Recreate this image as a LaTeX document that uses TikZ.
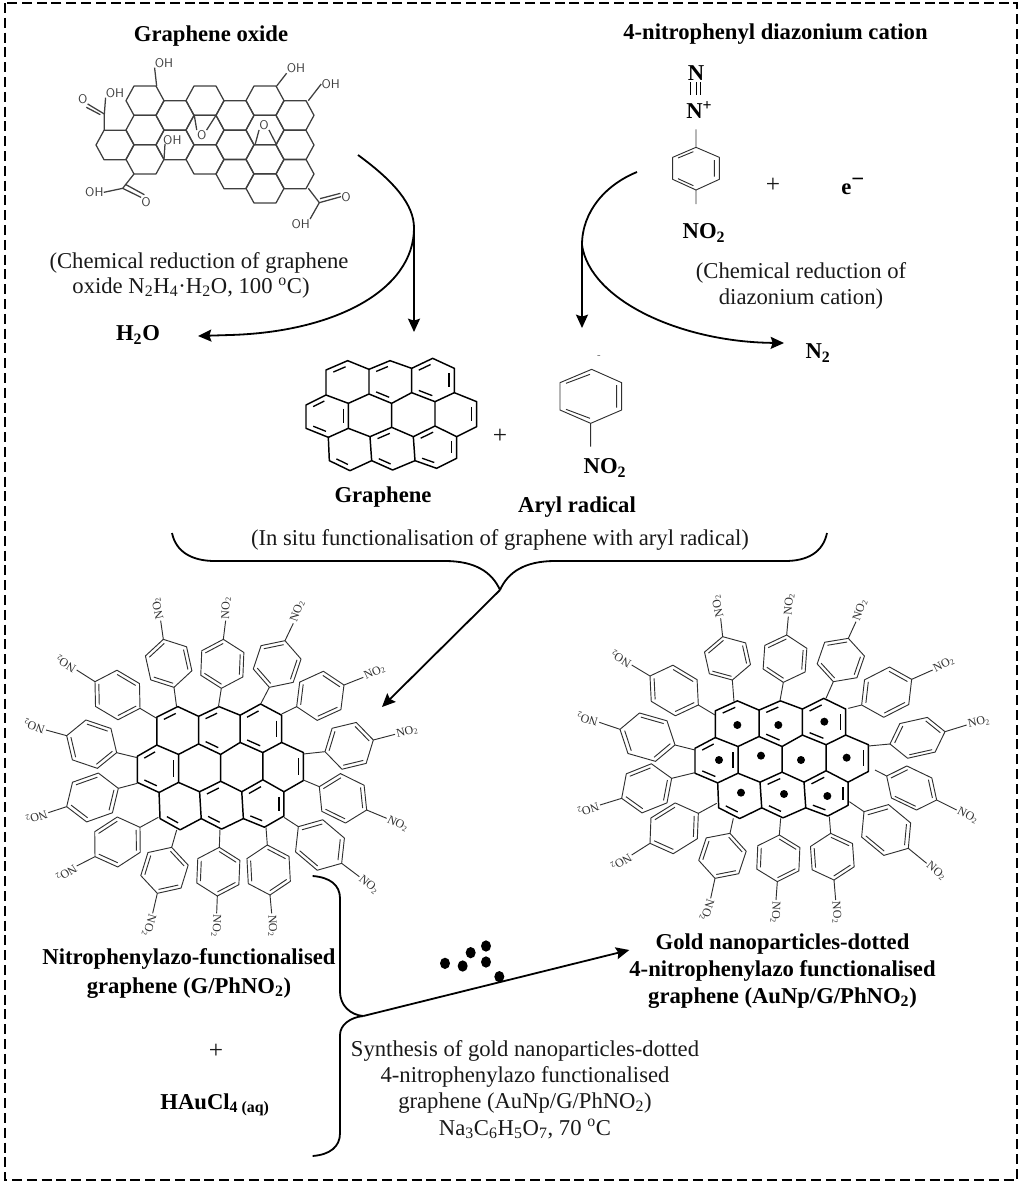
\documentclass[tikz,border=0pt]{standalone}
\usepackage{fontspec}
\setmainfont{Liberation Serif}
\usetikzlibrary{calc,arrows.meta}
\definecolor{goink}{HTML}{3F3F3F}
\definecolor{arink}{HTML}{303030}
\tikzset{
  txt/.style={font=\fontsize{17}{20}\selectfont,inner sep=0pt,text=black!90},
  btxt/.style={font=\fontsize{17}{20}\selectfont\bfseries,inner sep=0pt,text=black},
  plus/.style={font=\fontsize{19}{20}\selectfont,inner sep=0pt,text=black!90},
  arlab/.style={font=\fontsize{9}{10}\selectfont,inner sep=1pt,text=arink},
  golab/.style={font=\sffamily\fontsize{9.5}{10}\selectfont,inner sep=0pt,text=goink},
  aryl/.style={draw=arink,line width=.7pt,line join=round},
  gbond/.style={draw=black,line width=1.1pt,line join=round},
  gdbl/.style={draw=black,line width=1pt,shorten <=1.7pt,shorten >=1.7pt},
  gobond/.style={draw=goink,line width=.95pt,line join=round},
  flow/.style={draw=black,line width=1.35pt},
  flowtip/.style={flow,-{Stealth[length=10pt,width=9pt,inset=1.5pt]}},
  frame/.style={draw=black,line width=1.2pt,dash pattern=on 7.5pt off 3.6pt},
  gold/.style={fill=black,draw=none},
}
% --- graphene core, in the coordinates of a 3x enlargement
\newcommand\dblin[3]{\draw[gdbl] ($(#1)!.24!(#3)$) -- ($(#2)!.24!(#3)$);}
\newcommand\graphenecore{%
  \foreach \n/\p in {a1/{203,62},a2/{330,62},a3/{458,55},b1/{138,90},b2/{267,88},b3/{395,85},b4/{523,85},
    c1/{138,165},c2/{267,162},c3/{395,158},c4/{523,158},d0/{78,195},d1/{205,190},d2/{335,190},d3/{465,185},d4/{590,185},
    e0/{78,265},e1/{205,265},e2/{335,262},e3/{465,258},e4/{590,260},f1/{145,292},f2/{270,290},f3/{400,290},f4/{530,290},
    g1/{148,362},g2/{275,362},g3/{405,362},g4/{530,355},h1/{210,392},h2/{338,390},h3/{470,385},
    r1/{203,127},r2/{330,125},r3/{458,120},r4/{142,228},r7/{528,222},r8/{210,327},r9/{338,326},r10/{467,322}}
    {\coordinate (\n) at (\p);}
  \draw[gbond] (a1)--(b2)--(a2)--(b3)--(a3)--(b4)--(c4)--(d4)--(e4)--(f4)--(g4)--(h3)--(g3)--(h2)--(g2)--(h1)--(g1)--(f1)--(e0)--(d0)--(c1)--(b1)--cycle;
  \draw[gbond] (b2)--(c2) (b3)--(c3) (c1)--(d1)--(c2)--(d2)--(c3)--(d3)--(c4)
    (d1)--(e1) (d2)--(e2) (d3)--(e3) (f1)--(e1)--(f2)--(e2)--(f3)--(e3)--(f4) (f2)--(g2) (f3)--(g3);
  \dblin{b1}{a1}{r1}
  \dblin{b2}{a2}{r2}\dblin{c2}{d2}{r2}
  \dblin{b3}{a3}{r3}\dblin{b4}{c4}{r3}\dblin{c3}{d3}{r3}
  \dblin{d0}{c1}{r4}\dblin{d1}{e1}{r4}\dblin{e0}{f1}{r4}
  \dblin{d4}{e4}{r7}
  \dblin{g1}{h1}{r8}
  \dblin{f2}{e2}{r9}\dblin{g2}{h2}{r9}
  \dblin{e3}{f3}{r10}\dblin{f4}{g4}{r10}\dblin{g3}{h3}{r10}
}
% --- NO2-phenyl substituent: graphene vertex, near, far, bond end, direction
\newcommand\arh{47.4pt}
\newcommand\arinner[2]{\draw[aryl] ($(#1)!.17!(C)$) -- ($(#2)!.17!(C)$);}
\newcommand\arylsub[5]{%
  \coordinate (S) at (#1); \coordinate (N) at (#2); \coordinate (F) at (#3); \coordinate (E) at (#4);
  \coordinate (C) at ($(N)!.5!(F)$);
  \coordinate (P1) at ($(C)!.5!(F)$);
  \coordinate (P2) at ($(C)!.5!(N)$);
  \coordinate (v1) at ($(P1)!\arh!90:(F)$);
  \coordinate (v5) at ($(P1)!\arh!-90:(F)$);
  \coordinate (v2) at ($(P2)!\arh!-90:(N)$);
  \coordinate (v4) at ($(P2)!\arh!90:(N)$);
  \draw[aryl] (S)--(N) (F)--(E) (F)--(v1)--(v2)--(N)--(v4)--(v5)--cycle;
  \arinner{F}{v1}\arinner{v2}{N}\arinner{v4}{v5}
  \node[arlab,anchor=west,rotate=#5] (no2#5) at (E) {NO\textsubscript{2}};
}
\begin{document}
\begin{tikzpicture}[x=.75pt,y=-.75pt]
\useasboundingbox (0,0) rectangle (1024,1186);
\draw[frame] (5,3) rectangle (1017,1180);

% ---------- graphene oxide
\begin{scope}[shift={(60,20)},scale=1/3]
  \foreach \cx/\cy in {165/375,255/242,255/330,255/418,345/286,345/375,435/242,435/330,435/418,
     525/286,525/375,525/462,615/242,615/330,615/418,615/505,705/286,705/375,705/462}
    \draw[gobond] (\cx-57,\cy)--(\cx-33,\cy-44)--(\cx+33,\cy-44)--(\cx+57,\cy)--(\cx+33,\cy+44)--(\cx-33,\cy+44)--cycle;
  \node[golab] (oh1) at (312,128) {OH};
  \node[golab] (oh2) at (165,218) {OH};
  \node[golab] (o2)  at (68,237) {O};
  \node[golab] (oh3) at (337,360) {OH};
  \node[golab] (oe1) at (425,345) {O};
  \node[golab] (oe2) at (612,315) {O};
  \node[golab] (oh4) at (708,145) {OH};
  \node[golab] (oh5) at (812,192) {OH};
  \node[golab] (oh6) at (103,517) {OH};
  \node[golab] (o6)  at (258,547) {O};
  \node[golab] (o7)  at (858,530) {O};
  \node[golab] (oh7) at (722,612) {OH};
  \coordinate (c1) at (133,282); \coordinate (c2) at (188,505); \coordinate (c3) at (778,548);
  \draw[gobond] (290,198)--(oh1.south west);
  \draw[gobond] (133,330)--(c1)--(oh2.south west);
  \draw[gobond] (c1)--(o2.south east) ($(c1)+(-12,2)$)--($(o2.south east)+(-4,10)$);
  \draw[gobond] (312,418)--(315,372);
  \draw[gobond] (403,286)--(oe1.north west) (468,286)--(oe1.north east);
  \draw[gobond] (585,375)--(oe2.south west) (650,375)--(oe2.south east);
  \draw[gobond] (650,198)--(oh4.south west) (745,242)--(oh5.west);
  \draw[gobond] (222,462)--(c2)--(oh6.east);
  \draw[gobond] (c2)--(o6.north west) ($(c2)+(8,-12)$)--($(o6.north west)+(10,-8)$);
  \draw[gobond] (745,505)--(c3)--(oh7.north east);
  \draw[gobond] (c3)--(o7.west) ($(c3)+(2,-12)$)--($(o7.west)+(-2,-10)$);
\end{scope}

% ---------- titles
\node[btxt] (tgo) at (211,36) {Graphene oxide};
\node[btxt] (tdz) at (775.5,34) {4-nitrophenyl diazonium cation};
\node[txt] (cr1) at (199,263) {(Chemical reduction of graphene};
\node[txt] (cr2) at (191,288) {oxide N\textsubscript{2}H\textsubscript{4}·H\textsubscript{2}O, 100 \textsuperscript{o}C)};
\node[btxt] (h2o) at (138,335) {H\textsubscript{2}O};
\node[txt] (dr1) at (801,273) {(Chemical reduction of};
\node[txt] (dr2) at (801,299) {diazonium cation)};
\node[btxt] (n2) at (818,353) {N\textsubscript{2}};

% ---------- diazonium cation
\begin{scope}[shift={(640,20)},scale=1/3]
  \coordinate (dt) at (168,328); \coordinate (da) at (168,382); \coordinate (db) at (168,510); \coordinate (de) at (168,552);
  \draw[aryl] (da)--(238,412)--(238,478)--(db)--(98,478)--(98,412)--cycle (dt)--(da) (db)--(de);
  \draw[aryl] (114,414)--(160,395) (223,420)--(223,470) (114,476)--(160,497);
  \draw[draw=black,line width=.7pt] (152,186)--(152,226) (168,186)--(168,226) (182,186)--(182,226);
\end{scope}
\node[btxt] (dzn) at (696,73) {N};
\node[btxt,anchor=west] (dznp) at (686,110) {N\textsuperscript{+}};
\node[btxt] (dzno) at (704,233) {NO\textsubscript{2}};
\node[plus] (dzplus) at (773,185) {+};
\node[btxt,anchor=west] (elec) at (841,186) {e\raisebox{6pt}{−}};

% ---------- graphene + aryl radical
\begin{scope}[shift={(280,340)},scale=1/3]
  \graphenecore
  \coordinate (at) at (935,88); \coordinate (ab) at (932,250); \coordinate (ae) at (932,320);
  \draw[aryl] (at)--(1025,128)--(1025,210)--(ab)--(840,210)--(840,128)--cycle (ab)--(ae);
  \draw[aryl] (858,130)--(930,103) (1010,135)--(1010,203) (858,208)--(930,235);
\end{scope}
\node[font=\fontsize{8}{9}\selectfont,text=black!60,inner sep=0pt] (rad) at (599,357) {-};
\node[plus] (gplus) at (500,436) {+};
\node[btxt] (gname) at (383,497) {Graphene};
\node[btxt] (ano) at (605,468) {NO\textsubscript{2}};
\node[btxt] (aname) at (577,507) {Aryl radical};
\node[txt] (insitu) at (500,540) {(In situ functionalisation of graphene with aryl radical)};

% ---------- upper connectors
\coordinate (go0) at (358,155); \coordinate (go1) at (414,228); \coordinate (go2) at (414,332);
\coordinate (go3) at (230,335); \coordinate (goe) at (198,336);
\draw[flow] (go0) .. controls (395,182) and (414,205) .. (go1);
\draw[flowtip] (go1) -- (go2);
\draw[flow] (go1) .. controls (414,290) and (335,332) .. (go3);
\draw[flowtip] (go3) -- (goe);
\coordinate (dz0) at (637,172); \coordinate (dz1) at (582,245); \coordinate (dz2) at (582,328);
\coordinate (dze) at (784,343);
\draw[flow] (dz0) .. controls (605,185) and (582,212) .. (dz1);
\draw[flowtip] (dz1) -- (dz2);
\draw[flowtip] (dz1) .. controls (590,300) and (680,342) .. (dze);

% ---------- brace to functionalised graphene
\coordinate (bl) at (172,533); \coordinate (br) at (827,533); \coordinate (bm) at (500,590); \coordinate (bt) at (382,707);
\draw[flow] (bl) .. controls (176,552) and (192,561) .. (215,561) -- (445,561) .. controls (475,561) and (492,572) .. (bm);
\draw[flow] (br) .. controls (823,552) and (808,561) .. (785,561) -- (555,561) .. controls (525,561) and (508,572) .. (bm);
\draw[flowtip] (bm) -- (bt);

% ---------- functionalised graphene
\begin{scope}[shift={(20,590)},scale=1/3]
  \begin{scope}[shift={(352,342)},xscale=.973,yscale=1.12,shift={(-78,-55)}]
    \graphenecore
  \end{scope}
  \arylsub{470,352}{462,292}{430,148}{422,92}{102.5}
  \arylsub{595,352}{604,295}{610,148}{617,92}{88}
  \arylsub{722,342}{748,292}{795,152}{820,100}{71}
  \arylsub{785,372}{830,350}{972,285}{1030,262}{24.6}
  \arylsub{850,492}{915,485}{1060,450}{1125,433}{13.6}
  \arylsub{850,570}{898,590}{1040,660}{1100,685}{-26}
  \arylsub{792,682}{835,710}{965,820}{1018,860}{-40}
  \arylsub{738,712}{742,765}{750,915}{755,970}{-87}
  \arylsub{600,718}{598,772}{592,918}{590,970}{-92}
  \arylsub{470,720}{455,772}{412,910}{398,970}{-107}
  \arylsub{415,682}{360,712}{225,800}{170,828}{-147}
  \arylsub{352,580}{295,595}{140,650}{85,668}{-162}
  \arylsub{352,503}{290,488}{140,437}{78,420}{161}
  \arylsub{410,385}{360,355}{225,275}{170,240}{149}
\end{scope}

% ---------- gold dotted graphene
\begin{scope}[shift={(570,590)},scale=1/3]
  \begin{scope}[shift={(375,325)},xscale=1.016,yscale=1.07,shift={(-78,-55)}]
    \graphenecore
  \end{scope}
  \foreach \gx/\gy in {502/405,625/405,763/395,447/510,573/497,693/510,830/503,513/608,642/612,772/618}
    \fill[gold] (\gx,\gy) circle (12);
  \arylsub{492,335}{487,270}{458,140}{452,85}{102.6}
  \arylsub{630,332}{640,277}{650,135}{655,80}{86}
  \arylsub{768,325}{790,275}{835,145}{858,95}{71}
  \arylsub{835,355}{875,345}{1025,268}{1088,240}{27}
  \renewcommand\arh{40pt}
  \arylsub{895,468}{960,462}{1125,425}{1190,405}{12.6}
  \arylsub{915,540}{950,558}{1100,630}{1160,660}{-27}
  \renewcommand\arh{47.4pt}
  \arylsub{838,635}{882,665}{1015,775}{1070,820}{-39.6}
  \arylsub{778,680}{782,730}{792,870}{797,930}{-86}
  \arylsub{632,685}{628,735}{622,875}{618,930}{-92}
  \arylsub{490,685}{480,730}{435,865}{422,925}{-108}
  \arylsub{440,640}{385,670}{240,760}{185,795}{-148}
  \arylsub{375,548}{305,565}{155,625}{90,645}{-161}
  \arylsub{375,480}{315,465}{150,418}{88,397}{164}
  \arylsub{435,375}{385,345}{240,258}{185,225}{149}
\end{scope}

% ---------- lower texts
\node[btxt] (nf1) at (189,959) {Nitrophenylazo-functionalised};
\node[btxt] (nf2) at (189,988) {graphene (G/PhNO\textsubscript{2})};
\node[plus] (lplus) at (216,1051) {+};
\node[btxt] (hau) at (215,1105) {HAuCl\textsubscript{4 (aq)}};
\node[btxt] (gd1) at (782.5,944) {Gold nanoparticles-dotted};
\node[btxt] (gd2) at (782.5,971) {4-nitrophenylazo functionalised};
\node[btxt] (gd3) at (782.5,998) {graphene (AuNp/G/PhNO\textsubscript{2})};
\node[txt] (sy1) at (525,1051) {Synthesis of gold nanoparticles-dotted};
\node[txt] (sy2) at (525,1077) {4-nitrophenylazo functionalised};
\node[txt] (sy3) at (525,1103) {graphene (AuNp/G/PhNO\textsubscript{2})};
\node[txt] (sy4) at (525,1129) {Na\textsubscript{3}C\textsubscript{6}H\textsubscript{5}O\textsubscript{7}, 70 \textsuperscript{o}C};

% ---------- lower connector
\begin{scope}[shift={(300,860)},scale=1/3]
  \coordinate (lt) at (38,48); \coordinate (lb) at (38,888); \coordinate (lm) at (190,468); \coordinate (la) at (988,270);
  \draw[flow] (lt) .. controls (90,52) and (120,75) .. (120,115) -- (120,395) .. controls (120,435) and (150,465) .. (lm);
  \draw[flow] (lb) .. controls (90,884) and (120,860) .. (120,820) -- (120,525) .. controls (120,495) and (150,472) .. (lm);
  \draw[flowtip] (lm) -- (la);
  \foreach \gx/\gy in {435/310,488/318,512/278,558/258,558/306,598/350}
    \fill[gold] (\gx,\gy) ellipse (15 and 17);
\end{scope}
\end{tikzpicture}
\end{document}
